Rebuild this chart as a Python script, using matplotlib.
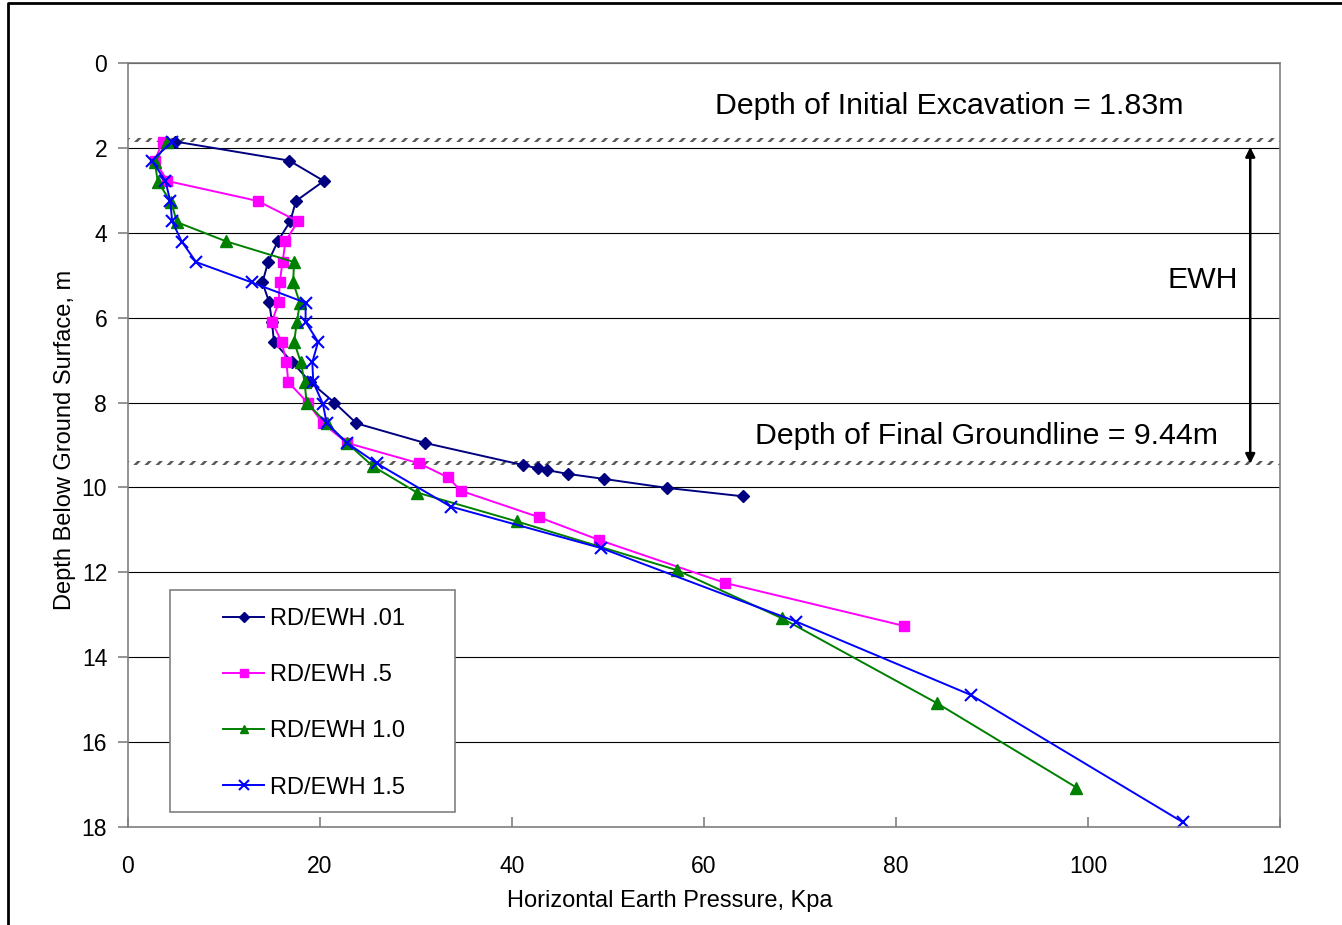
import numpy as np
import matplotlib
matplotlib.use("Agg")
from matplotlib import pyplot as plt
from matplotlib.patches import Rectangle
from matplotlib.lines import Line2D

plt.rcParams['font.family'] = ['Liberation Sans', 'DejaVu Sans']
plt.rcParams['hatch.linewidth'] = 1.8

# RD/EWH .01
p01_x = [4.9, 16.8, 20.4, 17.5, 16.9, 15.6, 14.6, 14.0, 14.7, 15.0, 15.2, 17.1, 19.0,
         21.5, 23.8, 30.9, 41.1, 42.7, 43.6, 45.8, 49.6, 56.1, 64.1]
p01_d = [1.85, 2.3, 2.78, 3.25, 3.73, 4.2, 4.69, 5.17, 5.63, 6.1, 6.57, 7.05, 7.52,
         8.0, 8.49, 8.95, 9.47, 9.55, 9.59, 9.68, 9.80, 10.01, 10.21]
# RD/EWH .5
p05_x = [3.6, 2.8, 4.1, 13.5, 17.7, 16.4, 16.1, 15.8, 15.7, 15.0, 16.0, 16.5, 16.7,
         18.7, 20.3, 22.8, 30.3, 33.3, 34.7, 42.8, 49.1, 62.2, 80.8]
p05_d = [1.85, 2.3, 2.78, 3.25, 3.73, 4.2, 4.69, 5.17, 5.63, 6.1, 6.57, 7.05, 7.52,
         8.0, 8.49, 8.95, 9.43, 9.76, 10.08, 10.7, 11.24, 12.25, 13.26]
# RD/EWH 1.0
p10_x = [4.1, 2.8, 3.1, 4.5, 5.1, 10.2, 17.3, 17.2, 17.9, 17.6, 17.3, 18.0, 18.4,
         18.6, 20.7, 22.8, 25.5, 30.1, 40.5, 57.2, 68.1, 84.25, 98.8]
p10_d = [1.85, 2.33, 2.8, 3.28, 3.75, 4.2, 4.69, 5.17, 5.65, 6.1, 6.57, 7.05, 7.52,
         8.0, 8.49, 8.95, 9.5, 10.12, 10.8, 11.95, 13.08, 15.08, 17.07]
# RD/EWH 1.5
p15_x = [4.6, 2.5, 3.9, 4.4, 4.6, 5.6, 7.1, 12.9, 18.5, 18.5, 19.8, 19.2, 19.3,
         20.3, 20.7, 22.8, 25.9, 33.6, 49.3, 69.6, 87.8, 109.9]
p15_d = [1.85, 2.3, 2.78, 3.25, 3.73, 4.21, 4.69, 5.17, 5.65, 6.1, 6.57, 7.05, 7.52,
         8.03, 8.49, 8.95, 9.43, 10.45, 11.43, 13.16, 14.89, 17.89]

labels = ['RD/EWH .01', 'RD/EWH .5', 'RD/EWH 1.0', 'RD/EWH 1.5']
init_exc = 1.83
final_gl = 9.44

fig = plt.figure(figsize=(13.42, 9.25), dpi=100)
ax = fig.add_axes([128/1342, 1-827/925, 1152/1342, 764/925])

ax.plot(p01_x, p01_d, color='#000080', lw=1.4, marker='D', ms=6.5, label=labels[0])
ax.plot(p05_x, p05_d, color='#FF00FF', lw=1.4, marker='s', ms=7.5, label=labels[1])
ax.plot(p10_x, p10_d, color='#008000', lw=1.4, marker='^', ms=8, label=labels[2])
ax.plot(p15_x, p15_d, color='#0000FF', lw=1.4, marker='x', ms=9, mew=1.5, label=labels[3])

ax.set_xlim(0, 120)
ax.set_ylim(18, 0)
ax.set_xticks(np.arange(0, 121, 20))
ax.set_yticks(np.arange(0, 19, 2))
ax.yaxis.grid(True, color='black', lw=0.8)
ax.set_axisbelow(True)
for s in ax.spines.values():
    s.set_color('#808080')
    s.set_linewidth(1.2)
ax.tick_params(axis='both', labelsize=16.5, color='#808080', length=7, width=1.2)
ax.tick_params(axis='x', direction='in', pad=20)
ax.tick_params(axis='y', direction='out', pad=8)

ax.set_xlabel('Horizontal Earth Pressure, Kpa', fontsize=17)
ax.xaxis.set_label_coords((670-128)/1152, -0.082)
ax.set_ylabel('Depth Below Ground Surface, m', fontsize=17)
ax.yaxis.set_label_coords(-(128-76)/1152, (827-440)/764)

# hatched lines at excavation depths
for d in (init_exc, final_gl):
    ax.add_patch(Rectangle((0, d - 0.07), 120, 0.11, facecolor='white',
                           edgecolor='#5a5a5a', hatch='///', lw=0, zorder=1.5))

ax.annotate('', xy=(116.9, 1.98), xytext=(116.9, final_gl),
            arrowprops=dict(arrowstyle='<|-|>', color='black', lw=1.8,
                            mutation_scale=14, shrinkA=0, shrinkB=0))
ax.text(109.9, 1.01, 'Depth of Initial Excavation = 1.83m', fontsize=21.8,
        ha='right', va='center')
ax.text(113.5, 8.79, 'Depth of Final Groundline = 9.44m', fontsize=21.8,
        ha='right', va='center')
ax.text(115.6, 5.11, 'EWH', fontsize=21.8, ha='right', va='center')

# legend box drawn as its own patch, legend placed inside it
ax.add_patch(Rectangle(((170-128)/1152, (827-812)/764), 285/1152, 222/764,
                       transform=ax.transAxes, facecolor='white', edgecolor='#808080',
                       lw=1.2, zorder=4))
leg = ax.legend(loc='upper left', bbox_to_anchor=((223-128)/1152, (827-608)/764),
                fontsize=17, frameon=False, labelspacing=1.45, handlelength=1.75,
                handletextpad=0.25, borderpad=0, borderaxespad=0, markerscale=0.75)
leg.set_zorder(5)

# outer chart border (top and left visible)
fig.add_artist(Line2D([8/1342, 8/1342, 1.0], [0.0, 1-3/925, 1-3/925],
                      transform=fig.transFigure, color='black', lw=2))

fig.savefig('out.png', dpi=100)
